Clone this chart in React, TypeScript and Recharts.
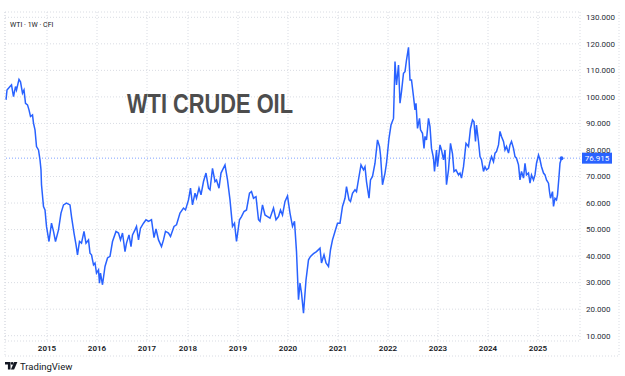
import React from 'react';
import { LineChart, Line, XAxis, YAxis, CartesianGrid, ReferenceLine, ReferenceDot } from 'recharts';

// weekly closes, time as decimal year
const weeks = [
  2014.36, 2014.38, 2014.44, 2014.47, 2014.51, 2014.55, 2014.57, 2014.62, 2014.65, 2014.69, 2014.72, 2014.75, 2014.79, 2014.82, 2014.85, 2014.89, 2014.91, 2014.94, 2014.97,
  2015.01, 2015.04, 2015.06, 2015.07, 2015.11, 2015.14, 2015.17, 2015.22, 2015.27, 2015.31, 2015.35, 2015.41, 2015.46, 2015.51, 2015.57, 2015.64, 2015.67, 2015.72, 2015.76, 2015.79, 2015.83, 2015.87, 2015.92, 2015.96,
  2016.01, 2016.04, 2016.07, 2016.11, 2016.14, 2016.17, 2016.21, 2016.23, 2016.25, 2016.29, 2016.34, 2016.39, 2016.44, 2016.49, 2016.56, 2016.61, 2016.65, 2016.69, 2016.74, 2016.77, 2016.82, 2016.86, 2016.89, 2016.94, 2016.97,
  2017.01, 2017.05, 2017.11, 2017.16, 2017.21, 2017.27, 2017.32, 2017.36, 2017.41, 2017.47, 2017.51, 2017.55, 2017.61, 2017.65, 2017.72, 2017.77, 2017.84, 2017.91, 2017.95,
  2018.01, 2018.05, 2018.09, 2018.14, 2018.17, 2018.22, 2018.26, 2018.31, 2018.36, 2018.41, 2018.44, 2018.49, 2018.54, 2018.57, 2018.62, 2018.66, 2018.74, 2018.79, 2018.84, 2018.89, 2018.93, 2018.97,
  2019.03, 2019.07, 2019.12, 2019.17, 2019.23, 2019.27, 2019.31, 2019.36, 2019.41, 2019.44, 2019.49, 2019.54, 2019.59, 2019.64, 2019.71, 2019.76, 2019.81, 2019.85, 2019.89, 2019.94, 2019.99,
  2020.04, 2020.09, 2020.13, 2020.17, 2020.21, 2020.24, 2020.27, 2020.31, 2020.36, 2020.41, 2020.45, 2020.51, 2020.57, 2020.64, 2020.67, 2020.72, 2020.76, 2020.81, 2020.85, 2020.89, 2020.94, 2020.99,
  2021.04, 2021.09, 2021.14, 2021.17, 2021.22, 2021.25, 2021.29, 2021.34, 2021.37, 2021.42, 2021.46, 2021.51, 2021.54, 2021.57, 2021.62, 2021.65, 2021.69, 2021.74, 2021.79, 2021.83, 2021.85, 2021.89, 2021.94, 2021.97,
  2022.02, 2022.06, 2022.11, 2022.14, 2022.17, 2022.21, 2022.24, 2022.27, 2022.31, 2022.34, 2022.37, 2022.41, 2022.44, 2022.47, 2022.51, 2022.54, 2022.56, 2022.59, 2022.63, 2022.65, 2022.69, 2022.72, 2022.74, 2022.77, 2022.81, 2022.84, 2022.87, 2022.91, 2022.93, 2022.97, 2022.99,
  2023.04, 2023.07, 2023.11, 2023.14, 2023.17, 2023.21, 2023.25, 2023.29, 2023.32, 2023.36, 2023.41, 2023.44, 2023.47, 2023.51, 2023.56, 2023.61, 2023.65, 2023.69, 2023.72, 2023.75, 2023.77, 2023.81, 2023.84, 2023.87, 2023.91, 2023.94, 2023.97,
  2024.01, 2024.04, 2024.07, 2024.11, 2024.14, 2024.17, 2024.21, 2024.24, 2024.27, 2024.31, 2024.34, 2024.37, 2024.41, 2024.44, 2024.47, 2024.51, 2024.54, 2024.57, 2024.61, 2024.64, 2024.67, 2024.71, 2024.74, 2024.77, 2024.81, 2024.84, 2024.87, 2024.91, 2024.94, 2024.97,
  2025.01, 2025.04, 2025.07, 2025.11, 2025.14, 2025.17, 2025.21, 2025.23, 2025.25, 2025.29, 2025.31, 2025.34, 2025.37, 2025.39, 2025.42, 2025.44, 2025.47,
];

const closes = [
  98.9, 102.6, 103.9, 104.5, 100.1, 103.9, 102.6, 106.6, 105.7, 101.4, 102.6, 97.6, 97.0, 95.1, 92.6, 93.2, 90.1, 87.6, 81.3,
  80.0, 76.3, 72.5, 66.9, 58.7, 57.4, 51.2, 45.5, 52.4, 49.3, 45.5, 49.9, 56.2, 59.3, 60.0, 59.3, 54.9, 48.7, 44.3, 40.5, 45.5, 44.9, 49.3, 44.9,
  46.1, 41.1, 40.5, 36.7, 37.4, 33.6, 34.8, 29.8, 33.6, 29.2, 36.1, 39.3, 39.9, 45.5, 49.3, 48.7, 46.1, 48.7, 41.7, 44.9, 48.0, 43.6, 48.0, 49.9, 51.2,
  46.1, 50.5, 52.4, 53.7, 53.1, 53.7, 47.0, 50.2, 46.1, 43.6, 46.1, 49.3, 48.7, 47.4, 51.2, 51.8, 56.2, 58.1, 57.4,
  61.2, 65.6, 59.3, 63.7, 61.8, 65.6, 63.1, 68.1, 71.3, 65.6, 65.0, 73.1, 68.1, 68.7, 65.6, 71.3, 74.4, 68.7, 61.2, 51.2, 52.4, 45.5,
  53.7, 54.9, 56.8, 57.4, 63.7, 64.3, 61.8, 62.4, 53.7, 53.1, 59.3, 55.5, 54.9, 54.3, 58.1, 53.7, 54.9, 57.4, 55.5, 60.6, 62.7,
  56.2, 51.2, 53.1, 41.7, 23.6, 29.8, 26.1, 18.5, 31.0, 38.6, 39.9, 40.9, 41.7, 43.0, 37.4, 40.5, 37.4, 36.1, 42.4, 46.1, 49.3, 52.4,
  52.4, 58.7, 61.8, 66.2, 61.2, 60.6, 63.7, 65.0, 64.3, 70.0, 74.4, 72.5, 73.7, 68.1, 61.8, 68.7, 70.0, 75.0, 83.8, 81.3, 78.1, 66.9, 71.3, 75.0,
  84.4, 89.4, 91.9, 113.3, 104.5, 112.0, 97.6, 102.0, 108.9, 109.5, 113.9, 118.7, 106.4, 106.4, 100.1, 95.1, 97.6, 88.1, 91.9, 87.6, 86.3, 80.6, 85.1, 83.8, 91.9, 88.8, 80.6, 76.9, 71.9, 80.0, 73.7,
  81.9, 80.0, 76.3, 80.0, 66.9, 72.5, 82.5, 78.5, 71.9, 72.5, 70.6, 71.3, 69.4, 73.7, 82.5, 81.3, 88.1, 91.3, 90.6, 83.2, 89.4, 83.2, 77.5, 76.3, 71.9, 73.7, 72.5,
  73.1, 75.6, 77.5, 75.6, 78.8, 79.4, 81.9, 87.0, 85.1, 83.2, 80.0, 81.3, 78.8, 81.9, 83.2, 80.6, 77.5, 76.9, 74.4, 68.7, 71.9, 69.4, 75.0, 70.6, 71.3, 67.5, 70.6, 68.7, 70.6, 75.0,
  78.1, 76.3, 73.7, 71.3, 70.6, 68.7, 67.5, 64.3, 61.8, 64.3, 58.7, 61.8, 61.2, 63.1, 70.0, 75.0, 76.915,
];

// where the year labels sit on the time scale
const yearTicks = [2015.18, 2016.18, 2017.18, 2018, 2019, 2020, 2021, 2022, 2023, 2024, 2025];
const priceTicks = [10, 20, 30, 40, 50, 60, 70, 80, 90, 100, 110, 120, 130];

const data = weeks.map((t, i) => ({ t, close: closes[i] }));
const lastWeek = weeks[weeks.length - 1];
const lastClose = closes[closes.length - 1];

const BLUE = '#2962ff';
const FONT = 'Roboto, "Liberation Sans", Arial, sans-serif';

const PriceTag = (props: any) => {
  const { x, y, width } = props.viewBox;
  return (
    <g>
      <rect x={x + width + 2} y={y - 5.5} width={30} height={11} fill={BLUE} />
      <text x={x + width + 17} y={y + 3} textAnchor="middle" fill="#fff" fontSize={8} fontFamily={FONT}>
        {lastClose.toFixed(3)}
      </text>
    </g>
  );
};

const App = () => {
  return (
    <div style={{ position: 'absolute', left: 0, top: 0, width: 625, height: 376, background: '#fff' }}>
      <LineChart width={625} height={376} data={data} margin={{ top: 12, right: 6, bottom: 20, left: 5 }}>
        <CartesianGrid stroke="#d9dce3" strokeDasharray="1 2" />
        <XAxis
          dataKey="t"
          type="number"
          domain={[2014.34, 2025.84]}
          allowDataOverflow
          ticks={yearTicks}
          interval={0}
          tickFormatter={(v: number) => String(Math.floor(v + 0.001))}
          height={15}
          axisLine={false}
          tickLine={false}
          tickSize={0}
          tickMargin={4}
          tick={{ fontSize: 8, fontFamily: FONT, fill: '#131722', fontWeight: 600 }}
        />
        <YAxis
          orientation="right"
          domain={[8, 132]}
          allowDataOverflow
          ticks={priceTicks}
          interval={0}
          tickFormatter={(v: number) => v.toFixed(3)}
          width={39}
          axisLine={false}
          tickLine={false}
          tickSize={0}
          tickMargin={6}
          tick={{ fontSize: 8, fontFamily: FONT, fill: '#2a2e39', textAnchor: 'start' }}
        />
        <ReferenceLine y={lastClose} stroke={BLUE} strokeOpacity={0.6} strokeDasharray="1 2" label={PriceTag} />
        <Line
          type="linear"
          dataKey="close"
          stroke={BLUE}
          strokeWidth={1.5}
          dot={false}
          isAnimationActive={false}
        />
        <ReferenceDot x={lastWeek} y={lastClose} r={2} fill={BLUE} stroke="none" />
      </LineChart>
      <svg width={625} height={376} style={{ position: 'absolute', left: 0, top: 0, pointerEvents: 'none' }}>
        <g stroke="#d9dce3" strokeDasharray="1 2" fill="none">
          <line x1={5} y1={12} x2={5} y2={356} />
          <line x1={619} y1={12} x2={619} y2={356} />
          <line x1={5} y1={356} x2={619} y2={356} />
        </g>
        <text x={10} y={26.5} fontSize={7} fontFamily={FONT} fill="#131722">WTI · 1W · CFI</text>
        <text
          x={127}
          y={113}
          fontSize={27.5}
          fontWeight="bold"
          fontFamily='"Liberation Sans Narrow", "Liberation Sans", Arial, sans-serif'
          fill="#4d4d4d"
          textLength={166}
          lengthAdjust="spacingAndGlyphs"
        >
          WTI CRUDE OIL
        </text>
        <g fill="#131722">
          <path d="M5 362h5.5v7.5h-2.6v-4.9H5z" />
          <circle cx={12.2} cy={363.4} r={1.4} />
          <path d="M14.2 362h3.2l-3.3 7.5h-3.2z" />
        </g>
        <text x={20} y={369.5} fontSize={9.5} fontFamily={FONT} fill="#131722">TradingView</text>
      </svg>
    </div>
  );
};

export default App;
